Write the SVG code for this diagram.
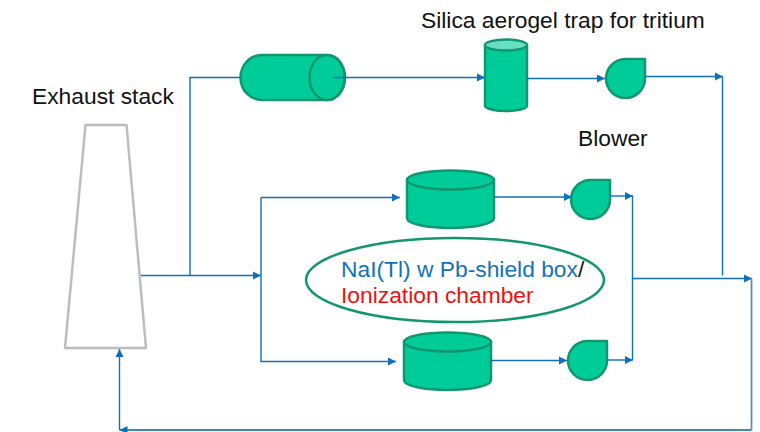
<svg xmlns="http://www.w3.org/2000/svg" width="760" height="432" viewBox="0 0 760 432">
<style>
.g{fill:#00cc99;stroke:#12966f;stroke-width:2.5;stroke-linejoin:round}
.c{fill:none;stroke:#0f6fbb;stroke-width:1.4}
.t{font-family:"Liberation Sans",Arial,sans-serif;font-size:22.8px;fill:#111}
</style>
<defs><marker id="a" markerUnits="userSpaceOnUse" markerWidth="9" markerHeight="9" refX="8" refY="4.500" orient="auto"><path d="M0 0.500L8 4.500L0 8.500Z" fill="#0f6fbb"/></marker></defs>
<rect width="760" height="432" fill="#fff"/>
<g id="stack"><path d="M85.500 125H126.500L146 348H65Z" fill="#fff" stroke="#bdbdbd" stroke-width="2.500" stroke-linejoin="round"/></g>
<g id="horizontal-cylinder"><path class="g" d="M262 55H327C337 55 345 65 345 77.500C345 90 337 100 327 100H262C250 100 240.500 90 240.500 77.500C240.500 65 250 55 262 55Z"/><ellipse class="g" cx="327" cy="77.500" rx="17.500" ry="22.500"/></g>
<g id="aerogel-trap"><path class="g" d="M485 45V106C485 108.500 495 111 506 111C517 111 527 108.500 527 106V45Z"/><ellipse cx="506" cy="45" rx="21" ry="5.500" fill="#66e0c2" stroke="#12966f" stroke-width="2.500"/></g>
<g id="blower-top"><path class="g" d="M645 59H625.500A19.500 19.500 0 1 0 645 78.500Z"/></g>
<g id="detector-top"><path class="g" d="M407 180V218C407 224 428 228 450.500 228C473 228 494 224 494 218V180Z"/><ellipse class="g" cx="450.500" cy="180" rx="43.500" ry="9.500"/></g>
<g id="blower-mid"><path class="g" d="M610 180H589.500A19.500 19.500 0 1 0 610 199.500Z"/></g>
<g id="detector-bottom"><path class="g" d="M404 342V380C404 386 425 390 447.500 390C470 390 491 386 491 380V342Z"/><ellipse class="g" cx="447.500" cy="342" rx="43.500" ry="9.500"/></g>
<g id="blower-bottom"><path class="g" d="M607 341H586.500A19.500 19.500 0 1 0 607 360.500Z"/></g>
<g id="connectors">
<path class="c" marker-end="url(#a)" d="M141 275.500H261"/>
<path class="c" d="M190 275.500V77.500H241"/>
<path class="c" marker-end="url(#a)" d="M333 77.500H485"/>
<path class="c" marker-end="url(#a)" d="M527 78.500H605"/>
<path class="c" marker-end="url(#a)" d="M645 76.500H723"/>
<path class="c" d="M722.500 76.500V275.500"/>
<path class="c" marker-end="url(#a)" d="M261 197.500H400"/>
<path class="c" marker-end="url(#a)" d="M261 197.500V361.500H396"/>
<path class="c" marker-end="url(#a)" d="M494 197H572"/>
<path class="c" marker-end="url(#a)" d="M610 196H633"/>
<path class="c" marker-end="url(#a)" d="M491 360.500H567"/>
<path class="c" marker-end="url(#a)" d="M607 360H633"/>
<path class="c" marker-end="url(#a)" d="M632.500 196V278.500H752"/>
<path class="c" d="M632.500 278.500V360"/>
<path class="c" d="M751.500 278.500V430" style="stroke:#5b8fb3;stroke-width:1.800"/>
<path class="c" marker-end="url(#a)" d="M751.500 430H119.500" style="stroke:#4d86ab;stroke-width:1.800"/>
<path class="c" marker-end="url(#a)" d="M119.500 430V349"/>
</g>
<g id="ionization-label"><ellipse cx="455" cy="280" rx="149" ry="42" fill="#fff" stroke="#12966f" stroke-width="2.500"/>
<text class="t" x="341" y="276.500"><tspan style="fill:#1273b8">NaI(Tl) w Pb-shield box</tspan>/</text>
<text class="t" x="341" y="303" style="fill:#f00f0f">Ionization chamber</text></g>
<text class="t" x="32" y="103.500">Exhaust stack</text>
<text class="t" x="421" y="28">Silica aerogel trap for tritium</text>
<text class="t" x="578" y="146">Blower</text>
</svg>
